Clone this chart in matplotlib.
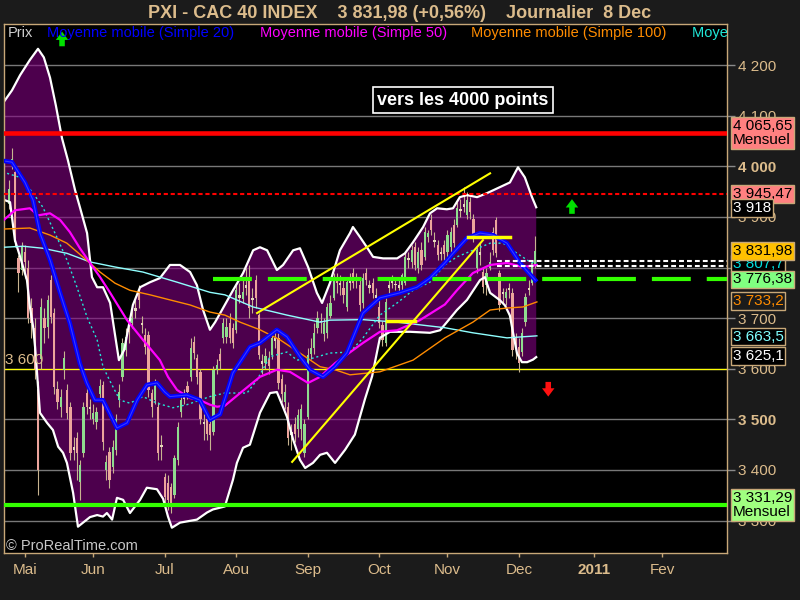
import numpy as np
import matplotlib
matplotlib.use("Agg")
import matplotlib.pyplot as plt
from matplotlib.transforms import blended_transform_factory

plt.rcParams['font.family'] = ['Liberation Sans', 'DejaVu Sans']
plt.rcParams['lines.scale_dashes'] = False

# ---- data (day index 0 = 3 May 2010, trading days) ----
first_day = -5
opens = [3925, 4005, 3988, 3818, 3795, 3830, 3800, 3720, 3680, 3560,
         3620, 3700, 3683, 3775, 3710, 3560, 3525, 3598, 3558, 3525,
         3445, 3463, 3377, 3434, 3552, 3525, 3500, 3495, 3550, 3568,
         3400, 3436, 3406, 3440, 3538, 3584, 3637, 3680, 3690, 3720,
         3755, 3690, 3667, 3667, 3552, 3538, 3525, 3450, 3386, 3375,
         3367, 3351, 3420, 3515, 3545, 3565, 3584, 3653, 3621, 3594,
         3495, 3500, 3490, 3475, 3598, 3630, 3660, 3663, 3690, 3680,
         3677, 3740, 3738, 3760, 3781, 3740, 3775, 3706, 3615, 3612,
         3620, 3627, 3660, 3661, 3580, 3535, 3525, 3475, 3490, 3480,
         3480, 3434, 3505, 3630, 3640, 3680, 3695, 3668, 3671, 3705,
         3740, 3778, 3770, 3760, 3722, 3775, 3790, 3780, 3765, 3730,
         3790, 3760, 3770, 3745, 3722, 3686, 3651, 3760, 3770, 3765,
         3760, 3765, 3769, 3815, 3810, 3840, 3800, 3835, 3821, 3860,
         3893, 3855, 3845, 3826, 3845, 3830, 3840, 3884, 3884, 3915,
         3925, 3903, 3930, 3895, 3799, 3830, 3791, 3765, 3800, 3870,
         3893, 3789, 3750, 3740, 3755, 3750, 3660, 3643, 3633, 3692,
         3755, 3769, 3805]
highs = [3972, 4037, 3995, 3825, 3850, 3845, 3815, 3740, 3700, 3575,
         3740, 3720, 3745, 3785, 3720, 3575, 3560, 3635, 3570, 3535,
         3465, 3475, 3420, 3535, 3565, 3540, 3530, 3525, 3580, 3575,
         3430, 3445, 3460, 3510, 3570, 3660, 3680, 3690, 3720, 3735,
         3765, 3705, 3680, 3675, 3560, 3580, 3535, 3470, 3395, 3390,
         3375, 3430, 3495, 3550, 3560, 3575, 3660, 3665, 3630, 3600,
         3510, 3510, 3500, 3605, 3620, 3640, 3700, 3700, 3710, 3690,
         3765, 3770, 3780, 3800, 3805, 3760, 3785, 3710, 3630, 3640,
         3635, 3670, 3680, 3670, 3590, 3570, 3535, 3490, 3505, 3520,
         3530, 3500, 3640, 3660, 3690, 3715, 3710, 3700, 3730, 3745,
         3790, 3790, 3785, 3775, 3780, 3790, 3800, 3790, 3775, 3790,
         3800, 3775, 3780, 3760, 3735, 3695, 3740, 3775, 3785, 3780,
         3780, 3790, 3830, 3830, 3845, 3850, 3840, 3850, 3880, 3875,
         3905, 3870, 3855, 3840, 3855, 3875, 3880, 3895, 3930, 3935,
         3960, 3950, 3940, 3905, 3840, 3850, 3800, 3800, 3830, 3880,
         3900, 3795, 3760, 3760, 3770, 3760, 3670, 3660, 3680, 3750,
         3775, 3815, 3862]
lows = [3915, 3995, 3840, 3752, 3785, 3780, 3690, 3660, 3580, 3350,
        3600, 3650, 3660, 3690, 3550, 3520, 3505, 3580, 3500, 3420,
        3420, 3380, 3340, 3425, 3510, 3500, 3490, 3480, 3540, 3440,
        3380, 3365, 3395, 3430, 3525, 3575, 3625, 3650, 3680, 3700,
        3720, 3670, 3630, 3545, 3505, 3530, 3420, 3420, 3330, 3320,
        3315, 3345, 3410, 3505, 3530, 3540, 3575, 3620, 3570, 3490,
        3460, 3460, 3440, 3470, 3590, 3600, 3650, 3650, 3650, 3640,
        3670, 3730, 3730, 3745, 3700, 3710, 3720, 3620, 3590, 3600,
        3590, 3620, 3640, 3560, 3535, 3520, 3450, 3440, 3455, 3465,
        3460, 3425, 3500, 3620, 3630, 3670, 3670, 3655, 3660, 3700,
        3735, 3750, 3745, 3730, 3715, 3755, 3760, 3760, 3715, 3720,
        3765, 3750, 3740, 3730, 3680, 3645, 3645, 3745, 3760, 3755,
        3750, 3755, 3765, 3800, 3800, 3795, 3790, 3795, 3815, 3850,
        3865, 3840, 3815, 3815, 3815, 3820, 3830, 3840, 3880, 3900,
        3910, 3895, 3895, 3850, 3790, 3805, 3750, 3745, 3795, 3825,
        3820, 3715, 3730, 3725, 3740, 3625, 3620, 3594, 3625, 3685,
        3745, 3765, 3800]
closes = [3955, 4015, 3850, 3790, 3840, 3810, 3700, 3690, 3600, 3400,
          3722, 3680, 3736, 3702, 3564, 3535, 3545, 3621, 3513, 3434,
          3440, 3434, 3410, 3525, 3525, 3520, 3512, 3515, 3565, 3456,
          3416, 3380, 3446, 3500, 3554, 3651, 3663, 3672, 3700, 3715,
          3736, 3686, 3643, 3558, 3525, 3572, 3434, 3445, 3347, 3340,
          3335, 3424, 3485, 3538, 3540, 3555, 3641, 3631, 3584, 3500,
          3490, 3471, 3470, 3598, 3608, 3615, 3690, 3682, 3660, 3650,
          3755, 3745, 3752, 3765, 3720, 3735, 3740, 3627, 3610, 3625,
          3605, 3661, 3655, 3572, 3550, 3554, 3463, 3470, 3472, 3509,
          3520, 3490, 3627, 3640, 3670, 3700, 3692, 3690, 3722, 3730,
          3775, 3770, 3765, 3745, 3771, 3770, 3770, 3775, 3725, 3780,
          3775, 3765, 3750, 3740, 3690, 3657, 3732, 3765, 3772, 3768,
          3765, 3785, 3821, 3818, 3835, 3805, 3830, 3805, 3870, 3868,
          3874, 3850, 3825, 3830, 3826, 3864, 3870, 3848, 3917, 3912,
          3920, 3933, 3910, 3860, 3834, 3825, 3761, 3790, 3810, 3834,
          3828, 3726, 3748, 3752, 3760, 3637, 3640, 3611, 3671, 3742,
          3760, 3809, 3832]

# moving averages
ma20_days = [-6, -4, 0, 2.5, 4.6, 7.7, 10.8, 13.8, 16.9, 19, 21.5, 24, 28.3, 31.4,
             34.5, 37.5, 40.6, 43, 44.6, 49.8, 53.8, 56.9, 60, 64, 69.2, 72.3, 77.5,
             80.6, 84.6, 87.7, 91.7, 95.4, 99, 104, 109.2, 115.4, 120.6, 124.6, 129.2,
             131.7, 136, 140, 144, 148.3, 152.3, 157]
ma20 = [4010, 4008, 3968, 3933, 3868, 3815, 3750, 3690, 3610, 3572, 3538, 3538, 3483,
        3493, 3538, 3568, 3572, 3554, 3545, 3548, 3538, 3499, 3510, 3592, 3643, 3651,
        3677, 3663, 3624, 3598, 3584, 3604, 3631, 3710, 3740, 3750, 3761, 3779, 3809,
        3828, 3858, 3868, 3864, 3848, 3809, 3775]
ma50_days = [-6.5, -3.1, 1.5, 4, 7.7, 10.8, 13.8, 16.9, 20, 23.1, 26.2, 31.4, 36.3,
             41.5, 44, 46.8, 50.8, 53.8, 56.9, 59.1, 61.5, 66.2, 72.3, 77.5, 81.5,
             87.1, 90.8, 95.4, 104, 109.2, 114.5, 121.5, 129.2, 132.9, 137.8, 143.1,
             148.3, 153.2, 157.5]
ma50 = [3894, 3913, 3917, 3903, 3907, 3894, 3870, 3838, 3809, 3781, 3750, 3696, 3657,
        3617, 3584, 3558, 3542, 3538, 3529, 3525, 3527, 3552, 3584, 3598, 3594, 3572,
        3584, 3611, 3651, 3673, 3676, 3696, 3727, 3755, 3789, 3805, 3809, 3801, 3805]
ma100_days = [-6.5, 1.5, 7.7, 12.9, 17.8, 23.1, 27.7, 32.3, 38.5, 44.6, 50.8, 56.9,
              61.5, 66.2, 72.3, 78.5, 84.6, 90.8, 95.4, 100, 109.2, 119.4, 129.2,
              137.8, 143.1, 148.3, 153.2, 157.5]
ma100 = [3876, 3878, 3864, 3848, 3821, 3791, 3769, 3755, 3746, 3736, 3726, 3712, 3706,
         3692, 3677, 3657, 3631, 3604, 3598, 3588, 3594, 3617, 3661, 3692, 3716, 3720,
         3722, 3732]
ma200_days = [-6.5, -0.6, 5.5, 12.9, 20, 27.7, 36.3, 46.8, 56.9, 61.5, 70.2, 80.6,
              90.8, 93.8, 104, 114.5, 129.2, 137.8, 148.3, 157.5]
ma200 = [3840, 3842, 3838, 3828, 3811, 3801, 3791, 3771, 3751, 3746, 3722, 3706, 3692,
         3696, 3697, 3692, 3681, 3671, 3661, 3665]
dotted_days = [-5.5, -1.5, 2.5, 5.5, 9.8, 12.9, 16, 19.1, 22.2, 24, 26.2, 29.2, 32.3,
               36.3, 40.6, 45.5, 49.8, 53.8, 56.9, 61.5, 68.3, 71.4, 75.4, 80.6, 83.7,
               88.6, 93.8, 100, 104, 109.2, 114.5, 119.4, 124.6, 129.2, 132.9, 137.8,
               143.1, 147.1, 151.4, 155.4, 157.5]
dotted_ma = [3986, 3978, 3947, 3919, 3860, 3815, 3761, 3702, 3657, 3604, 3575, 3538,
             3532, 3545, 3532, 3523, 3529, 3538, 3545, 3552, 3552, 3578, 3624, 3633,
             3617, 3621, 3631, 3633, 3661, 3706, 3730, 3755, 3771, 3805, 3821, 3834,
             3848, 3848, 3828, 3811, 3809]

# bollinger bands
band_up_days = [-6.2, -4, -1.5, 1.5, 4, 5.8, 7.7, 9.5, 11.4, 13.2, 15.4, 16.9, 19.1,
                20.6, 22.2, 24, 26.2, 27.7, 28.9, 30.5, 31.7, 33.2, 35.4, 38.5, 41.5,
                44.6, 47.7, 50.8, 52.9, 54.8, 56.9, 58.5, 60.6, 64, 67.1, 70.2, 72.3,
                74.5, 77.5, 79.4, 82.5, 84.6, 87.1, 89.8, 91.4, 93.8, 96.9, 100, 100.9,
                103.1, 105.2, 107.1, 110.2, 114.5, 116.9, 119.4, 122.5, 124.6, 126.8,
                129.8, 131.7, 133.8, 136, 139.1, 142.2, 146.2, 149.2, 151.7, 153.8,
                156, 157.3]
band_up = [4130, 4150, 4180, 4210, 4232, 4215, 4175, 4120, 4055, 4012, 3953, 3919,
           3868, 3781, 3761, 3761, 3730, 3667, 3617, 3637, 3677, 3726, 3761, 3771,
           3779, 3805, 3805, 3791, 3765, 3716, 3677, 3692, 3716, 3755, 3789, 3834,
           3840, 3834, 3795, 3805, 3834, 3838, 3801, 3750, 3730, 3769, 3834, 3868,
           3880, 3860, 3840, 3821, 3818, 3818, 3828, 3850, 3880, 3907, 3917, 3915,
           3917, 3939, 3943, 3939, 3947, 3959, 3968, 3998, 3978, 3939, 3919]
band_lo_days = [-6.2, -4.6, -3.1, -1.5, 0.6, 1.5, 2.5, 3.1, 3.7, 4.6, 6.8, 8.6, 10.2,
                11.7, 12.9, 13.8, 14.8, 16.3, 20, 22.2, 24, 25.2, 26.8, 28.3, 30.2,
                32.3, 35.4, 37.5, 40.6, 42.5, 44, 45.2, 47.7, 52.9, 56, 57.8, 61.5, 64,
                65.2, 67.1, 69.2, 72.3, 75.4, 77.5, 79.1, 80.6, 82.5, 84.6, 86.2, 88.6,
                90.8, 92.9, 95.4, 98.5, 101.5, 104.6, 106.8, 109.2, 112.3, 118.5, 124.6,
                127.7, 129.8, 132.9, 136, 140, 141.5, 143.1, 146.2, 147.7, 149.2, 150.2,
                151.4, 152.9, 154.5, 156.3, 157.3]
band_lo = [3933, 3929, 3854, 3821, 3775, 3722, 3683, 3643, 3592, 3513, 3493, 3479,
           3446, 3434, 3414, 3386, 3355, 3288, 3307, 3311, 3308, 3315, 3302, 3345,
           3341, 3315, 3341, 3365, 3362, 3343, 3308, 3286, 3296, 3302, 3316, 3322,
           3328, 3381, 3414, 3444, 3450, 3513, 3552, 3554, 3529, 3505, 3460, 3420,
           3404, 3414, 3430, 3434, 3414, 3440, 3470, 3540, 3585, 3661, 3673, 3673,
           3671, 3676, 3692, 3716, 3736, 3775, 3781, 3750, 3735, 3725, 3705, 3670,
           3630, 3613, 3613, 3618, 3623]

# levels and drawings
monthly_high = 4065.65
monthly_low = 3331.29
dotted_resist = 3945.47
green_level = 3776.38
green_level_start = 57.8
white_levels = [3813, 3803]
white_start = 145.2
upper_trend_days, upper_trend = [71.4, 143.1], [3710, 3986]
lower_trend_days, lower_trend = [82.2, 140.9], [3416, 3854]
short_lines = [([136.3, 149.2], 3860), ([111.4, 120.0], 3694)]
up_arrows = [(11.4, 4237, 4266), (168.3, 3906, 3935)]
down_arrows = [(161.0, 3574, 3545)]

grid_levels = [3300, 3400, 3500, 3600, 3700, 3800, 3900, 4000, 4100, 4200]
month_days = [0, 21, 43, 65, 87, 109, 130, 152, 175, 196]
month_names = ['Mai', 'Jun', 'Jul', 'Aou', 'Sep', 'Oct', 'Nov', 'Dec', '2011', 'Fev']

side_labels = [
    (4065.65, '4 065,65\nMensuel', '#ff8080', 'black'),
    (3945.47, '3 945,47', '#ff8080', 'black'),
    (3918.0, '3 918', 'black', 'white'),
    (3807.7, '3 807,7', 'black', '#00e0e0'),
    (3733.2, '3 733,2', '#1b1b1b', '#ff8c00'),
    (3831.98, '3 831,98', '#ffc000', 'black'),
    (3776.38, '3 776,38', '#80ff80', 'black'),
    (3663.5, '3 663,5', 'black', '#80ffff'),
    (3625.1, '3 625,1', 'black', 'white'),
    (3331.29, '3 331,29\nMensuel', '#a0ff80', 'black'),
]

BG = '#1b1b1b'
TAN = '#dcbc8c'
FRAME = '#c8a878'

fig = plt.figure(figsize=(8, 6), dpi=100, facecolor=BG)
ax = fig.add_axes([0.005, 0.0783, 0.90375, 0.8817], facecolor='black')
ax.set_xlim(-6.46, 216)
ax.set_ylim(3236, 4281)

# grid under everything
ax.set_axisbelow(True)
ax.set_yticks(grid_levels)
ax.grid(axis='y', color='#787878', lw=1.0)
ax.grid(axis='x', visible=False)

# bollinger band
poly_x = np.r_[band_up_days, band_lo_days[::-1]]
poly_y = np.r_[band_up, band_lo[::-1]]
ax.fill(poly_x, poly_y, color='#820082', alpha=0.6, lw=0, zorder=1)

ax.axhline(3600, color='#ffff00', lw=0.9, zorder=1.5)

# candles
days = np.arange(first_day, first_day + len(closes))
o = np.array(opens)
c = np.array(closes)
ax.vlines(days, lows, highs, color='#c8b490', lw=0.8, zorder=2)
up = c > o + 6
dn = c < o - 6
body_col = np.where(up, '#8fdc8f', np.where(dn, '#eca49c', '#e6d8bc'))
ax.bar(days, np.maximum(np.abs(c - o), 3), bottom=np.minimum(o, c), width=0.72,
       color=body_col, lw=0, zorder=2.2)

ax.plot(band_up_days, band_up, color='white', lw=1.6, zorder=2.5)
ax.plot(band_lo_days, band_lo, color='white', lw=1.6, zorder=2.5)

# moving averages
ax.plot(ma200_days, ma200, color='#90ffff', lw=1.0, zorder=3)
ax.plot(ma100_days, ma100, color='#ff8c00', lw=1.0, zorder=3)
ax.plot(dotted_days, dotted_ma, color='#20e8d8', lw=1.0, ls=(0, (1.5, 2)), zorder=3)
ax.plot(ma50_days, ma50, color='#ff00ff', lw=1.6, zorder=3.1)
ax.plot(ma20_days, ma20, color='#0000ff', lw=3.2, zorder=3.2)
ax.plot(ma20_days, ma20, color='#3a3aff', lw=0.8, zorder=3.3)

# horizontal levels
ax.axhline(monthly_high, color='#ff0000', lw=3.3, zorder=4)
ax.axhline(monthly_low, color='#33ff00', lw=3.0, zorder=4)
ax.axhline(dotted_resist, color='#ff0000', lw=1.5, ls=(0, (3, 2)), zorder=4)
ax.hlines(green_level, green_level_start, 216, color='#33ff00', lw=3.0,
          linestyles=[(0, (28, 11.5))], zorder=4)
for lvl in white_levels:
    ax.hlines(lvl, white_start, 216, color='white', lw=1.5,
              linestyles=[(0, (3.5, 2.2))], zorder=4)

# yellow drawings
ax.plot(upper_trend_days, upper_trend, color='#ffff00', lw=1.5, zorder=5)
ax.plot(lower_trend_days, lower_trend, color='#ffff00', lw=1.5, zorder=5)
for xs, lvl in short_lines:
    ax.plot(xs, [lvl, lvl], color='#ffff00', lw=2.5, zorder=5)

# signal arrows
arrow_style = 'simple,head_length=0.6,head_width=0.9,tail_width=0.4'
for d, p0, p1 in up_arrows:
    ax.annotate('', xy=(d, p1), xytext=(d, p0),
                arrowprops=dict(arrowstyle=arrow_style, color='#00e000', lw=0,
                                shrinkA=0, shrinkB=0), zorder=6)
for d, p0, p1 in down_arrows:
    ax.annotate('', xy=(d, p1), xytext=(d, p0),
                arrowprops=dict(arrowstyle=arrow_style, color='#ff1010', lw=0,
                                shrinkA=0, shrinkB=0), zorder=6)

# annotation box
ax.text(134.8, 4130, 'vers les 4000 points', ha='center', va='center', color='white',
        fontsize=13, fontweight='bold', zorder=7,
        bbox=dict(boxstyle='square,pad=0.25', fc='black', ec='white', lw=1.2))

ax.text(-6.0, 3603, '3 600', color=TAN, fontsize=11, ha='left', va='bottom', zorder=6)

# legend row
legend_items = [(0.0055, 'Prix', '#d0d0d0'),
                (0.059, 'Moyenne mobile (Simple 20)', '#0000ff'),
                (0.354, 'Moyenne mobile (Simple 50)', '#ff00ff'),
                (0.646, 'Moyenne mobile (Simple 100)', '#ff8c00'),
                (0.951, 'Moyenne mobile (Simple 200)', '#20e8d8')]
for xf, txt, col in legend_items:
    ax.text(xf, 0.983, txt, transform=ax.transAxes, color=col, fontsize=10.5,
            ha='left', va='center', clip_on=True, zorder=8)

ax.text(0.003, 0.013, '\u00a9 ProRealTime.com', transform=ax.transAxes, color='#c8c8c8',
        fontsize=10.5, ha='left', va='center', zorder=8)

# right axis
ax.yaxis.tick_right()
ax.set_yticklabels([f"{v // 1000} {v % 1000:03d}" for v in grid_levels])
ax.tick_params(axis='y', colors='#8a8a8a', labelcolor=TAN, labelsize=11,
               length=6, width=1, pad=2, direction='out')
for v, lab, tk in zip(grid_levels, ax.get_yticklabels(), ax.yaxis.get_major_ticks()):
    if v in (4000, 3500):
        lab.set_fontweight('bold')
    if v == 3600:
        tk.tick2line.set_color('#ffff00')

ax.set_xticks(month_days)
ax.set_xticklabels(month_names)
ax.tick_params(axis='x', colors=FRAME, labelcolor=TAN, labelsize=11,
               length=3, width=1, pad=4, direction='out')
for lab in ax.get_xticklabels():
    if lab.get_text() == '2011':
        lab.set_fontweight('bold')

for sp in ax.spines.values():
    sp.set_color(FRAME)
    sp.set_linewidth(1)

trans = blended_transform_factory(ax.transAxes, ax.transData)
for k, (price, txt, fc, tc) in enumerate(side_labels):
    ax.text(1.008, price, txt, transform=trans, color=tc, fontsize=11, ha='left',
            va='center', linespacing=1.0, clip_on=False, zorder=10 + k,
            bbox=dict(boxstyle='square,pad=0.12', fc=fc, ec=FRAME, lw=1))

fig.text(0.5, 1 - 13 / 600, 'PXI - CAC 40 INDEX    3 831,98 (+0,56%)    Journalier  8 Dec',
         ha='center', va='center', fontsize=13, fontweight='bold', color=TAN)

fig.savefig('out.png', dpi=100, facecolor=BG)
